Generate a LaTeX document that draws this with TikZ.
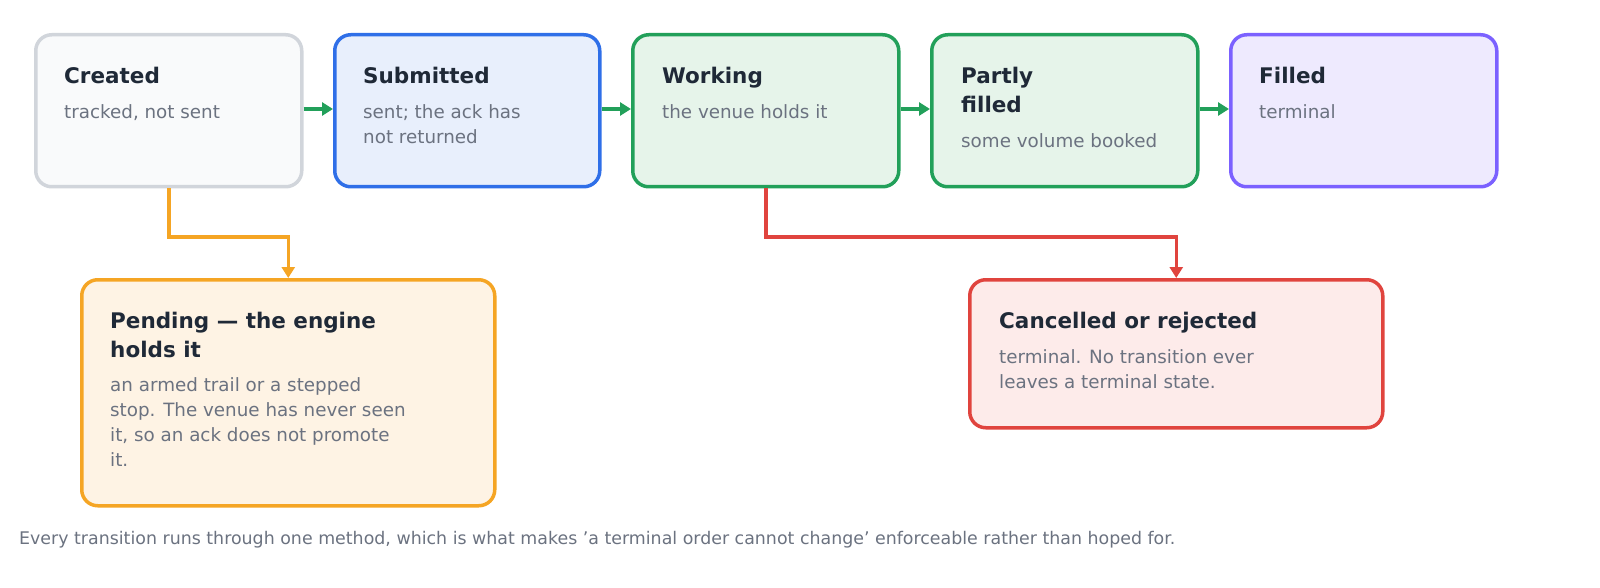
\documentclass[tikz,border=0pt]{standalone}
\usepackage{fontspec}
\setmainfont{DejaVu Sans}
\usetikzlibrary{arrows.meta,calc}
\definecolor{txt}{HTML}{1F2937}
\definecolor{sub}{HTML}{6B7280}
\definecolor{gB}{HTML}{D1D5DB}\definecolor{gF}{HTML}{F9FAFB}
\definecolor{bB}{HTML}{2F6FE8}\definecolor{bF}{HTML}{E8EFFC}
\definecolor{wB}{HTML}{22A05A}\definecolor{wF}{HTML}{E6F4EA}
\definecolor{pB}{HTML}{7B61FF}\definecolor{pF}{HTML}{EEEAFE}
\definecolor{oB}{HTML}{F5A524}\definecolor{oF}{HTML}{FEF3E4}
\definecolor{rB}{HTML}{E0443E}\definecolor{rF}{HTML}{FDEBEA}
\tikzset{
 box/.style 2 args={draw=#1,fill=#2,line width=3.5pt,rounded corners=16pt,inner sep=0pt,anchor=north west},
 ttl/.style={anchor=north west,inner sep=0pt,align=left,text=txt,font=\fontsize{21.5}{29}\selectfont\bfseries},
 bdy/.style={anchor=north west,inner sep=0pt,align=left,text=sub,font=\fontsize{18.3}{25}\selectfont},
 arr/.style={line width=3.5pt,-{Triangle[length=11pt,width=13pt]}}
}
\begin{document}
\begin{tikzpicture}[x=1pt,y=-1pt]
\useasboundingbox (0,0) rectangle (1600,588);
\node[box={gB}{gF},minimum width=266pt,minimum height=152pt] (c) at (34,33) {};
\node[box={bB}{bF},minimum width=265pt,minimum height=152pt] (s) at (333,33) {};
\node[box={wB}{wF},minimum width=266pt,minimum height=152pt] (w) at (631,33) {};
\node[box={wB}{wF},minimum width=266pt,minimum height=152pt] (p) at (930,33) {};
\node[box={pB}{pF},minimum width=266pt,minimum height=152pt] (f) at (1229,33) {};
\node[box={oB}{oF},minimum width=413pt,minimum height=226pt] (pe) at (80,278) {};
\node[box={rB}{rF},minimum width=413pt,minimum height=148pt] (ca) at (968,278) {};

\node[ttl] (ct) at (64,67) {Created};
\node[bdy] (cb) at (64,104) {tracked, not sent};
\node[ttl] (st) at (363,67) {Submitted};
\node[bdy] (sb) at (363,104) {sent; the ack has\\not returned};
\node[ttl] (wt) at (662,67) {Working};
\node[bdy] (wb) at (662,104) {the venue holds it};
\node[ttl] (pt) at (961,67) {Partly\\filled};
\node[bdy] (pb) at (961,133) {some volume booked};
\node[ttl] (ft) at (1259,67) {Filled};
\node[bdy] (fb) at (1259,104) {terminal};
\node[ttl] (pet) at (110,312) {Pending — the engine\\holds it};
\node[bdy] (peb) at (110,377) {an armed trail or a stepped\\stop. The venue has never seen\\it, so an ack does not promote\\it.};
\node[ttl] (cat) at (999,312) {Cancelled or rejected};
\node[bdy] (cab) at (999,349) {terminal. No transition ever\\leaves a terminal state.};
\node[anchor=west,inner sep=0pt,text=sub,font=\fontsize{17.4}{20}\selectfont] (foot) at (19,540) {Every transition runs through one method, which is what makes \char"27 a terminal order cannot change\char"27\ enforceable rather than hoped for.};

\draw[arr,draw=wB] (c.east |- 0,109) -- (s.west |- 0,109);
\draw[arr,draw=wB] (s.east |- 0,109) -- (w.west |- 0,109);
\draw[arr,draw=wB] (w.east |- 0,109) -- (p.west |- 0,109);
\draw[arr,draw=wB] (p.east |- 0,109) -- (f.west |- 0,109);
\draw[arr,draw=oB] (c.south) -- (c.south |- 0,237) -- (pe.north |- 0,237) -- (pe.north);
\draw[arr,draw=rB] (w.south) -- (w.south |- 0,237) -- (ca.north |- 0,237) -- (ca.north);
\end{tikzpicture}
\end{document}
